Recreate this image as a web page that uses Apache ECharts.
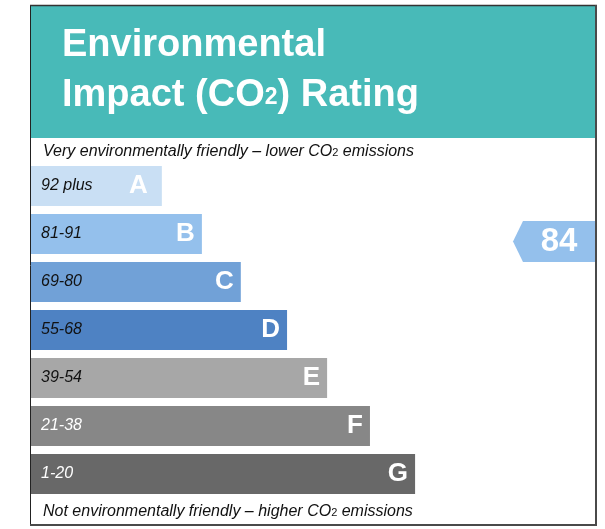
<!DOCTYPE html>
<html>
<head>
<meta charset="utf-8">
<script src="https://cdn.jsdelivr.net/npm/echarts@6/dist/echarts.min.js"></script>
<style>html,body{margin:0;padding:0;background:#fff}#c{width:605px;height:529px}</style>
</head>
<body>
<div id="c"></div>
<script>
// ---- data ----
var bands = ['A', 'B', 'C', 'D', 'E', 'F', 'G'];
var ranges = ['92 plus', '81-91', '69-80', '55-68', '39-54', '21-38', '1-20'];
var barLengths = [23.2, 30.3, 37.2, 45.4, 52.5, 60.1, 68.1];
var barColors = ['#c9dff4', '#94c0ec', '#71a1d7', '#4e82c3', '#a7a7a7', '#878787', '#686868'];
var rangeTextColors = ['#111', '#111', '#111', '#111', '#111', '#fff', '#fff'];
var rating = 84;
var ratingBand = 'B';
var titleLines = ['Environmental', 'Impact (CO', '2', ') Rating'];
var topNote = ['Very environmentally friendly \u2013 lower CO', '2', ' emissions'];
var bottomNote = ['Not environmentally friendly \u2013 higher CO', '2', ' emissions'];

var chart = echarts.init(document.getElementById('c'), null, {renderer: 'canvas'});
var FONT = 'Liberation Sans, Arial, sans-serif';

function noteStyle() {
  return { color: '#111', fontFamily: FONT, fontStyle: 'italic', fontWeight: 'normal', fontSize: 16, lineHeight: 20,
    rich: { s: { fontSize: 11, fontStyle: 'normal', fontFamily: FONT, color: '#111', verticalAlign: 'middle', padding: [2, 0, 0, 0] } } };
}

var option = {
  animation: false,
  title: [{
    left: 62, top: 21, z: 10, padding: 0,
    text: titleLines[0] + '\n' + titleLines[1] + '{sub|' + titleLines[2] + '}' + titleLines[3],
    textStyle: {
      color: '#fff', fontFamily: FONT, fontWeight: 'bold', fontSize: 38, lineHeight: 50,
      rich: { sub: { fontSize: 23, fontWeight: 'bold', color: '#fff', fontFamily: FONT, verticalAlign: 'middle', padding: [4, 0, 0, 0] } }
    }
  }, {
    left: 43, top: 142, padding: 0,
    text: topNote[0] + '{s|' + topNote[1] + '}' + topNote[2],
    textStyle: noteStyle()
  }, {
    left: 43, top: 502, padding: 0,
    text: bottomNote[0] + '{s|' + bottomNote[1] + '}' + bottomNote[2],
    textStyle: noteStyle()
  }],
  graphic: [
    { type: 'rect', z: 0, shape: { x: 31, y: 6, width: 564, height: 132 }, style: { fill: '#48bab8' } },
    { type: 'line', z: 50, shape: { x1: 30.5, y1: 5, x2: 30.5, y2: 526 }, style: { stroke: '#222', lineWidth: 1 } },
    { type: 'line', z: 50, shape: { x1: 30, y1: 5.5, x2: 597, y2: 5.5 }, style: { stroke: '#333', lineWidth: 1.5 } },
    { type: 'line', z: 50, shape: { x1: 596, y1: 5, x2: 596, y2: 526 }, style: { stroke: '#4a4a4a', lineWidth: 2 } },
    { type: 'line', z: 50, shape: { x1: 30, y1: 525, x2: 597, y2: 525 }, style: { stroke: '#4a4a4a', lineWidth: 2 } }
  ],
  grid: { left: 31, right: 10, top: 162, height: 336, containLabel: false },
  xAxis: { type: 'value', min: 0, max: 100, show: false },
  yAxis: {
    type: 'category', data: bands, inverse: true,
    axisLine: { show: false }, axisTick: { show: false }, splitLine: { show: false },
    axisLabel: {
      inside: true, margin: 10, z: 20,
      formatter: function (v, i) { return ranges[i]; },
      color: function (v, i) { return rangeTextColors[bands.indexOf(v)]; },
      fontFamily: FONT, fontStyle: 'italic', fontSize: 16
    },
    z: 10
  },
  series: [{
    type: 'bar', barWidth: 40, silent: true,
    data: barLengths.map(function (v, i) {
      var item = { value: v, itemStyle: { color: barColors[i] } };
      if (i === 0) item.label = { distance: 14 };
      return item;
    }),
    label: { show: true, position: 'insideRight', distance: 7, formatter: '{b}',
      color: '#fff', fontFamily: FONT, fontWeight: 'bold', fontSize: 26 }
  }, {
    type: 'scatter', silent: true, z: 5,
    symbol: 'path://M0,20.5 L10,0 L82,0 L82,41 L10,41 Z',
    symbolSize: [82, 41], symbolOffset: [-41, 7.5],
    itemStyle: { color: '#94c0ec', opacity: 1 },
    data: [[100, ratingBand, rating]],
    label: { show: true, position: 'inside', offset: [5, 0], formatter: function (p) { return String(p.value[2]); },
      color: '#fff', fontFamily: FONT, fontWeight: 'bold', fontSize: 33 }
  }]
};
chart.setOption(option);
</script>
</body>
</html>
